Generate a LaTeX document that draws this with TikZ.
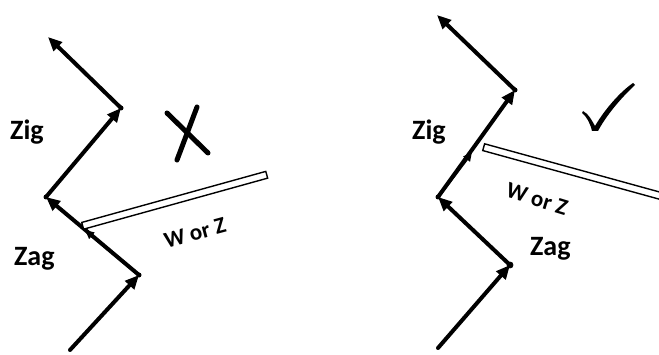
\documentclass[tikz,border=0pt]{standalone}
\usepackage{fontspec}
\setmainfont{Carlito}
\usetikzlibrary{arrows.meta}
\begin{document}
\begin{tikzpicture}[x=1pt,y=1pt,
  seg/.style={line width=4pt, line cap=round, -{Triangle[length=14pt,width=12pt]}},
  midhead/.style={line width=3pt, -{Triangle[length=9pt,width=8pt]}},
  rod/.style={draw, line width=1.4pt, fill=white, inner sep=0pt, minimum height=7pt, anchor=west},
  lbl/.style={font=\fontsize{28}{30}\selectfont\bfseries, anchor=base west, inner sep=0pt},
  wz/.style={font=\fontsize{23}{25}\selectfont\bfseries, inner sep=0pt},
  joint/.style={circle, fill, inner sep=0pt, minimum size=5pt},
  ring/.style={circle, draw, fill, line width=0.8pt, inner sep=0pt, minimum size=6pt},
  xstroke/.style={line width=5pt, line cap=round}
]
\clip (0,0) rectangle (659,354);
\useasboundingbox (0,0) rectangle (659,354);
% ---------- left diagram ----------
\coordinate (S1) at (70,4);
\coordinate (A1) at (139,79);
\coordinate (B1) at (46,157);
\coordinate (C1) at (121,246);
\coordinate (D1) at (48,317);
\coordinate (R1) at (82,128);
\coordinate (M1) at (85,124);
\draw[seg] (S1) -- (A1);
\draw[seg] (A1) -- (B1);
\draw[midhead] (A1) -- (M1);
\draw[seg] (B1) -- (C1);
\draw[seg] (C1) -- (D1);
\node[joint] (j1) at (A1) {};
\node[joint] (j2) at (B1) {};
\node[joint] (j3) at (C1) {};
\node[rod, minimum width=191pt, rotate=15.5] (rod1) at (R1) {};
\node[lbl] (zig1) at (10,214) {Zig};
\node[lbl] (zag1) at (14,89) {Zag};
\node[wz, rotate=15] (wz1) at (195,121) {W or Z};
\draw[xstroke] (167,241) -- (208,201);
\draw[xstroke] (197,247) -- (177,194);
% ---------- right diagram ----------
\coordinate (S2) at (438,6);
\coordinate (A2) at (510,89);
\coordinate (B2) at (438,157);
\coordinate (C2) at (515,264);
\coordinate (D2) at (437,339);
\coordinate (R2) at (483,207);
\coordinate (M2) at (472,202);
\draw[seg] (S2) -- (A2);
\draw[seg] (A2) -- (B2);
\draw[seg] (B2) -- (C2);
\draw[midhead] (B2) -- (M2);
\draw[seg] (C2) -- (D2);
\node[ring] (j4) at (A2) {};
\node[joint] (j5) at (B2) {};
\node[joint] (j6) at (C2) {};
\node[rod, minimum width=260pt, rotate=-15.4] (rod2) at (R2) {};
\node[lbl] (zig2) at (412,214) {Zig};
\node[lbl] (zag2) at (530,99) {Zag};
\node[wz, rotate=-17] (wz2) at (537,155) {W or Z};
\fill (583,243) .. controls (589,240) and (592,233) .. (595,228)
  .. controls (605,245) and (620,262) .. (633,271) -- (635,269)
  .. controls (620,255) and (606,238) .. (598,223) -- (592,223)
  .. controls (590,231) and (587,237) .. (582,241) -- cycle;
\end{tikzpicture}
\end{document}
